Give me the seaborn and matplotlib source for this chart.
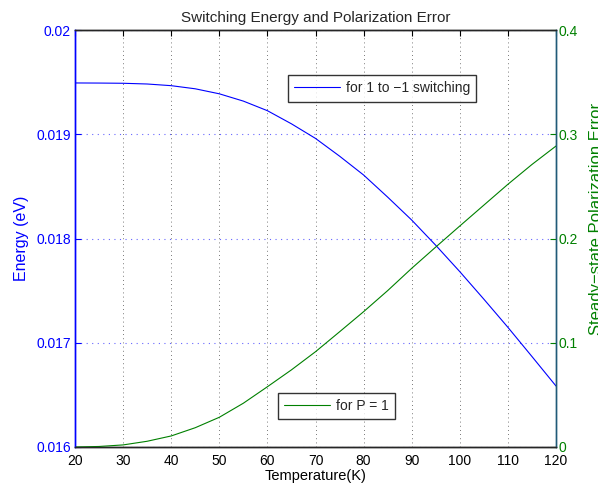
import matplotlib
matplotlib.use("Agg")
import matplotlib.pyplot as plt
import seaborn as sns

# data
temperature = [20, 25, 30, 35, 40, 45, 50, 55, 60, 65, 70, 75, 80, 85, 90, 95, 100, 105, 110, 115, 120]
energy = [0.019492, 0.019491, 0.019489, 0.019482, 0.019466, 0.019436, 0.019388, 0.019318,
          0.019226, 0.019100, 0.018960, 0.018790, 0.018609, 0.018397, 0.018177, 0.017935,
          0.017682, 0.017418, 0.017148, 0.016868, 0.016585]
pol_error = [0.0, 0.0005, 0.002, 0.0055, 0.0106, 0.0185, 0.0285, 0.042, 0.0578, 0.074,
             0.0914, 0.1105, 0.1298, 0.150, 0.1714, 0.1918, 0.212, 0.232, 0.252, 0.271, 0.2887]

x_ticks = [20, 30, 40, 50, 60, 70, 80, 90, 100, 110, 120]
left_ticks = [0.016, 0.017, 0.018, 0.019, 0.020]
left_labels = ["0.016", "0.017", "0.018", "0.019", "0.02"]
right_ticks = [0.0, 0.1, 0.2, 0.3, 0.4]
right_labels = ["0", "0.1", "0.2", "0.3", "0.4"]

sns.set_style("white")
plt.rcParams['font.family'] = ['Liberation Sans', 'DejaVu Sans']
plt.rcParams['font.size'] = 10

blue = "#0000ff"
green = "#008000"

fig = plt.figure(figsize=(5.98, 4.87), dpi=100)
ax1 = fig.add_axes([75 / 598, 40 / 487, 481 / 598, 417 / 487])
ax2 = ax1.twinx()

sns.lineplot(x=temperature, y=energy, ax=ax1, color=blue, linewidth=0.8,
             label="for 1 to \u22121 switching")
sns.lineplot(x=temperature, y=pol_error, ax=ax2, color=green, linewidth=0.8,
             label="for P = 1")

ax1.set_xlim(20, 120)
ax1.set_ylim(0.016, 0.020)
ax2.set_ylim(0, 0.4)
ax1.set_xticks(x_ticks)
ax1.set_xticklabels([str(t) for t in x_ticks])
ax1.set_yticks(left_ticks)
ax1.set_yticklabels(left_labels)
ax2.set_yticks(right_ticks)
ax2.set_yticklabels(right_labels)

ax1.grid(True, axis='x', color='black', linestyle=(0, (1, 4)), linewidth=0.6, alpha=0.7)
ax1.grid(True, axis='y', color=blue, linestyle=(0, (1, 4)), linewidth=0.8, alpha=0.6)

ax1.tick_params(axis='x', direction='in', length=4, top=True, colors='black', labelsize=10, pad=5)
ax1.tick_params(axis='y', direction='in', length=4, colors=blue, labelcolor=blue, labelsize=10, pad=3)
ax2.tick_params(axis='y', direction='in', length=4, colors=green, labelcolor=green, labelsize=10, pad=2)

for a in (ax1, ax2):
    for s in a.spines.values():
        s.set_visible(True)
        s.set_linewidth(1.0)
ax1.spines['left'].set_color(blue)
ax2.spines['left'].set_color(blue)
ax1.spines['bottom'].set_color('black')
ax1.spines['top'].set_color('black')
ax1.spines['right'].set_color('#205a78')
ax2.spines['right'].set_color('#205a78')

ax1.set_xlabel("Temperature(K)", color='black', labelpad=1, fontsize=10.5)
ax1.set_ylabel("Energy (eV)", color=blue, labelpad=5, fontsize=11.5)
ax2.set_ylabel("Steady\u2212state Polarization Error", color=green, rotation=90,
               va='top', ha='center', fontsize=12)
ax2.yaxis.set_label_coords(1.069, 0.548)
ax1.set_title("Switching Energy and Polarization Error", fontsize=11, pad=6)

leg1 = ax1.legend(loc='upper left', bbox_to_anchor=(0.443, 0.892), frameon=True,
                  fancybox=False, edgecolor='black', handlelength=3.3,
                  borderpad=0.45, handletextpad=0.4, borderaxespad=0)
leg1.get_frame().set_linewidth(1.0)
leg2 = ax2.legend(loc='upper left', bbox_to_anchor=(0.422, 0.1295), frameon=True,
                  fancybox=False, edgecolor='black', handlelength=3.3,
                  borderpad=0.45, handletextpad=0.4, borderaxespad=0)
leg2.get_frame().set_linewidth(1.0)

fig.savefig("out.png", dpi=100)
